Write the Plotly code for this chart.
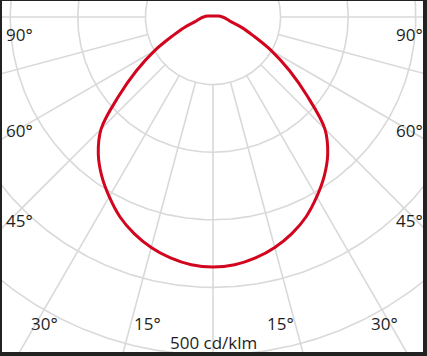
import numpy as np
import plotly.graph_objects as go

# ---- data: luminous intensity distribution (cd/klm), symmetric C0/C180 plane ----
angles_deg = [0, 5, 10, 15, 20, 25, 30, 35, 40, 45, 50, 55, 60, 65, 70, 75, 80, 85, 90,
              100, 120, 180]
intensity = [370, 368, 362, 353, 341, 326, 307, 287, 264, 234, 182, 138, 100, 66, 45, 28, 22, 18, 14,
             8, 3, 1.5]

ring_values = [100, 200, 300, 400, 500]
spoke_angles = [-90, -75, -60, -45, -30, -15, 0, 15, 30, 45, 60, 75, 90]
side_labels = ["90°", "60°", "45°"]
bottom_labels = ["30°", "15°", "15°", "30°"]
unit_label = "500 cd/klm"

GRID = "#d9d9d9"
RED = "#d2051e"
TEXT = "#1e1e1e"

W, H = 427, 356
ML, MR, MT, MB = 2, 4, 1, 4
CX, CY = 213, 17           # pole position in pixels
SCALE = 0.676              # px per cd/klm

pw, ph = W - ML - MR, H - MT - MB
xr = [(ML - CX) / SCALE, (W - MR - CX) / SCALE]
yr = [-(H - MB - CY) / SCALE, (CY - MT) / SCALE]

fig = go.Figure()

# rings
t = np.linspace(0, 2 * np.pi, 721)
for rv in ring_values:
    fig.add_trace(go.Scatter(x=rv * np.sin(t), y=-rv * np.cos(t), mode="lines",
                             line=dict(color=GRID, width=1.6), hoverinfo="skip", showlegend=False))

# spokes (start at inner ring)
r0 = ring_values[0]
rmax = 2000
for a in spoke_angles:
    th = np.radians(a)
    fig.add_trace(go.Scatter(x=[r0 * np.sin(th), rmax * np.sin(th)],
                             y=[-r0 * np.cos(th), -rmax * np.cos(th)], mode="lines",
                             line=dict(color=GRID, width=1.6), hoverinfo="skip", showlegend=False))

# curve, mirrored for both half planes
ang = np.array(angles_deg, dtype=float)
val = np.array(intensity, dtype=float)
full_ang = np.concatenate([-ang[::-1], ang[1:]])
full_val = np.concatenate([val[::-1], val[1:]])
th = np.radians(full_ang)
fig.add_trace(go.Scatter(x=full_val * np.sin(th), y=-full_val * np.cos(th), mode="lines",
                         line=dict(color=RED, width=3, shape="spline", smoothing=1.0),
                         hoverinfo="skip", showlegend=False))


def px2paper(px, py):
    return (px - ML) / pw, 1 - (py - MT) / ph


ann = []
FONT = dict(family="Open Sans, sans-serif", size=17, color=TEXT)
side_y = [34, 130, 220]
for lab, py in zip(side_labels, side_y):
    for px in (19, 409):
        x, y = px2paper(px, py)
        ann.append(dict(x=x, y=y, xref="paper", yref="paper", text=lab, showarrow=False,
                        xanchor="center", yanchor="middle", font=FONT))
for lab, px in zip(bottom_labels, [44, 147.5, 280.5, 384]):
    x, y = px2paper(px, 323.5)
    ann.append(dict(x=x, y=y, xref="paper", yref="paper", text=lab, showarrow=False,
                    xanchor="center", yanchor="middle", font=FONT))
x, y = px2paper(213, 342)
ann.append(dict(x=x, y=y, xref="paper", yref="paper", text=unit_label, showarrow=False,
                xanchor="center", yanchor="middle", font=FONT))

fig.update_layout(
    width=W, height=H,
    margin=dict(l=ML, r=MR, t=MT, b=MB),
    paper_bgcolor="#222222", plot_bgcolor="white",
    xaxis=dict(range=xr, visible=False, fixedrange=True),
    yaxis=dict(range=yr, visible=False, fixedrange=True),
    annotations=ann,
)

fig.write_html("out.html")
